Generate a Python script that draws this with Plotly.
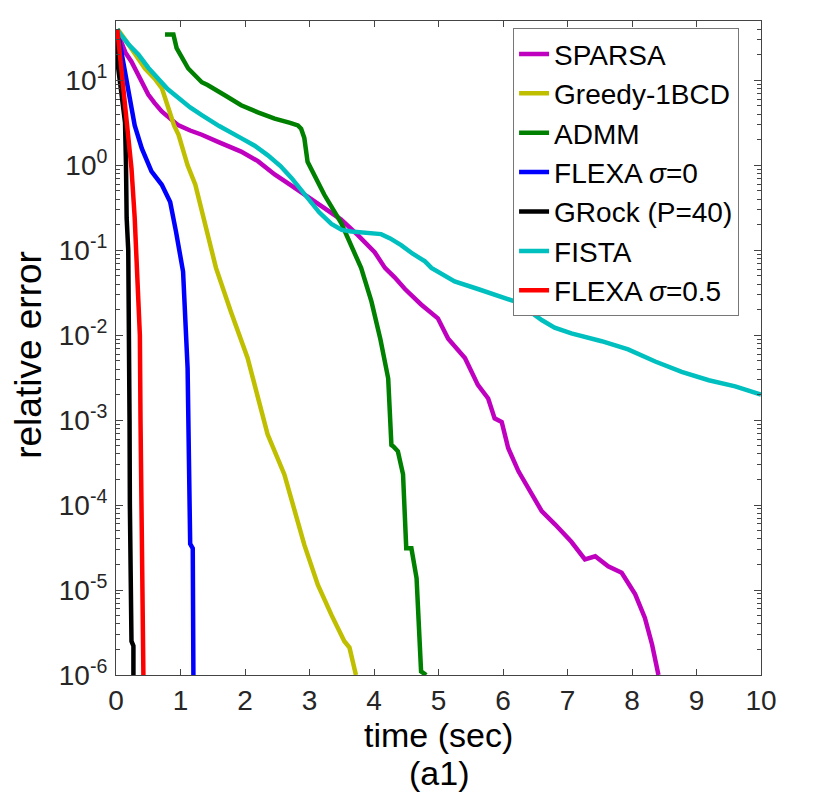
import plotly.graph_objects as go

# values (time in sec, relative error)
sparsa_t = [0.02, 0.06, 0.15, 0.24, 0.32, 0.40, 0.50, 0.60, 0.71, 0.85, 0.97, 1.15, 1.33, 1.60,
            1.94, 2.20, 2.46, 2.72, 2.97, 3.23, 3.49, 3.75, 4.01, 4.17, 4.32, 4.48, 4.73, 4.99,
            5.15, 5.41, 5.61, 5.77, 5.87, 5.98, 6.08, 6.24, 6.39, 6.60, 6.81, 7.06, 7.27, 7.43,
            7.63, 7.84, 8.05, 8.20, 8.31, 8.41]
sparsa_err = [40, 31, 21, 16.6, 12.6, 9.5, 6.8, 5.4, 4.3, 3.5, 2.95, 2.57, 2.29, 1.86,
              1.45, 1.12, 0.78, 0.575, 0.43, 0.32, 0.23, 0.151, 0.095, 0.062, 0.048, 0.035,
              0.023, 0.0158, 0.0091, 0.0054, 0.0026, 0.0018, 0.00105, 0.00095, 4.7e-4, 2.5e-4,
              1.6e-4, 8.5e-5, 5.9e-5, 3.7e-5, 2.3e-5, 2.5e-5, 1.9e-5, 1.6e-5, 8.9e-6, 4.7e-6,
              2.3e-6, 1.0e-6]

greedy_t = [0.02, 0.06, 0.25, 0.45, 0.60, 0.71, 0.78, 0.90, 0.97, 1.11, 1.23, 1.32, 1.47, 1.55,
            1.78, 2.04, 2.35, 2.61, 2.92, 3.13, 3.34, 3.54, 3.62, 3.72]
greedy_err = [40, 37, 23, 13.8, 10.5, 8.1, 5.6, 2.95, 2.29, 1.0, 0.59, 0.32, 0.105, 0.062,
              0.019, 0.0054, 6.8e-4, 2.3e-4, 3.4e-5, 1.15e-5, 5.1e-6, 2.5e-6, 2.1e-6, 1.0e-6]

admm_t = [0.76, 0.89, 0.94, 1.03, 1.12, 1.33, 1.42, 1.70, 1.94, 2.20, 2.46, 2.70, 2.82, 2.87,
          2.92, 2.97, 3.10, 3.23, 3.49, 3.80, 3.96, 4.10, 4.22, 4.27, 4.30, 4.37, 4.45, 4.50,
          4.58, 4.66, 4.73, 4.81]
admm_err = [34.7, 34.7, 24, 17.8, 13.8, 9.5, 8.8, 6.6, 5.1, 4.2, 3.55, 3.16, 2.95, 2.7,
            2.09, 1.1, 0.71, 0.45, 0.21, 0.062, 0.025, 0.0089, 0.0031, 5.1e-4, 4.9e-4, 4.3e-4,
            2.3e-4, 3.1e-5, 3.1e-5, 1.38e-5, 1.1e-6, 1.0e-6]

flexa0_t = [0.02, 0.10, 0.22, 0.29, 0.40, 0.55, 0.71, 0.84, 0.93, 1.01, 1.04, 1.11, 1.15, 1.16,
            1.15, 1.19, 1.20]
flexa0_err = [40, 17.8, 6.2, 2.95, 1.58, 0.85, 0.59, 0.37, 0.166, 0.081, 0.056, 0.0041, 1.3e-4,
              4.9e-5, 3.5e-5, 3.1e-5, 1.0e-6]

grock_t = [0.0, 0.035, 0.087, 0.14, 0.155, 0.165, 0.19, 0.205, 0.21, 0.215, 0.225, 0.24, 0.27, 0.27]
grock_err = [40, 13.8, 6.8, 3.2, 1.0, 0.24, 0.1, 0.01, 1e-3, 1e-4, 1e-5, 2.5e-6, 2.2e-6, 1.0e-6]

fista_t = [0.02, 0.06, 0.20, 0.35, 0.50, 0.66, 0.80, 0.97, 1.15, 1.33, 1.60, 1.94, 2.15, 2.35,
           2.55, 2.72, 2.97, 3.15, 3.34, 3.50, 3.65, 3.90, 4.11, 4.25, 4.42, 4.60, 4.79, 4.89,
           5.05, 5.25, 5.61, 5.93, 6.18, 6.40, 6.60, 6.80, 7.06, 7.53, 7.94, 8.36, 8.77, 9.19,
           9.60, 10.0]
fista_err = [40, 35.5, 26.3, 20, 14.1, 10.5, 7.9, 6.2, 4.8, 3.9, 2.9, 2.09, 1.7, 1.32,
             0.98, 0.71, 0.41, 0.28, 0.204, 0.174, 0.166, 0.162, 0.155, 0.138, 0.115, 0.091,
             0.074, 0.062, 0.052, 0.043, 0.035, 0.0295, 0.025, 0.0195, 0.0151, 0.0123, 0.0105,
             0.0085, 0.0068, 0.0049, 0.0037, 0.00295, 0.0025, 0.002]

flexa05_t = [0.02, 0.11, 0.19, 0.24, 0.29, 0.31, 0.37, 0.38, 0.395, 0.41, 0.425]
flexa05_err = [40, 8.7, 2.29, 0.92, 0.24, 0.1, 0.01, 1e-3, 1e-4, 1e-5, 1e-6]

names = ["SPARSA", "Greedy-1BCD", "ADMM", "FLEXA <i>σ</i>=0", "GRock (P=40)", "FISTA",
         "FLEXA <i>σ</i>=0.5"]
colors = ["#bf00bf", "#bfbf00", "#008000", "#0000ff", "#000000", "#00bfbf", "#ff0000"]

ytick_vals = [1e-6, 1e-5, 1e-4, 1e-3, 1e-2, 1e-1, 1e0, 1e1]
ytick_text = ["10<sup>-6</sup>", "10<sup>-5</sup>", "10<sup>-4</sup>", "10<sup>-3</sup>",
              "10<sup>-2</sup>", "10<sup>-1</sup>", "10<sup>0</sup>", "10<sup>1</sup>"]

font = "Liberation Sans, Arial, sans-serif"
axis_color = "#444444"

series = [
    (sparsa_t, sparsa_err),
    (greedy_t, greedy_err),
    (admm_t, admm_err),
    (flexa0_t, flexa0_err),
    (grock_t, grock_err),
    (fista_t, fista_err),
    (flexa05_t, flexa05_err),
]

fig = go.Figure()
for (t, err), name, c in zip(series, names, colors):
    fig.add_trace(go.Scatter(x=t, y=err, mode="lines", name=name, legendgroup=name,
                             line=dict(color=c, width=4.5)))

minor_vals = [m * 10.0 ** e for e in range(-6, 2) for m in range(2, 10) if m * 10.0 ** e <= 50]

fig.update_xaxes(
    range=[0, 10], dtick=1, showgrid=False, zeroline=False, automargin=False,
    showline=True, linecolor=axis_color, linewidth=1, mirror="ticks",
    ticks="inside", ticklen=6, tickcolor=axis_color,
    tickfont=dict(family=font, size=28, color="#262626"), ticklabelstandoff=0,
)
fig.update_yaxes(
    type="log", range=[-6, 1.699], showgrid=False, zeroline=False, automargin=False,
    showline=True, linecolor=axis_color, linewidth=1, mirror="ticks",
    tickmode="array", tickvals=ytick_vals, ticktext=ytick_text,
    ticks="inside", ticklen=7, tickcolor=axis_color,
    tickfont=dict(family=font, size=28, color="#262626"), ticklabelstandoff=2,
    minor=dict(tickmode="array", tickvals=minor_vals, ticks="inside", ticklen=4,
               tickcolor=axis_color, showgrid=False),
)

# axis titles placed as annotations to sit where the reference has them
fig.add_annotation(text="time (sec)", x=0.5, y=-0.06, xref="paper", yref="paper",
                   xanchor="center", yanchor="top", showarrow=False,
                   font=dict(family=font, size=34, color="black"))
fig.add_annotation(text="(a1)", x=0.5, y=-0.1185, xref="paper", yref="paper",
                   xanchor="center", yanchor="top", showarrow=False,
                   font=dict(family=font, size=34, color="black"))
fig.add_annotation(text="relative error", x=-0.136, y=0.49, xref="paper", yref="paper",
                   xanchor="center", yanchor="middle", textangle=-90, showarrow=False,
                   font=dict(family=font, size=37, color="black"))

fig.update_layout(
    width=830, height=800,
    margin=dict(l=108, r=77, t=13, b=133),
    plot_bgcolor="white", paper_bgcolor="white",
    legend=dict(x=0.966, xanchor="right", y=0.989, yanchor="top",
                bgcolor="white", bordercolor="#777777", borderwidth=1,
                font=dict(family=font, size=28, color="black"),
                tracegroupgap=0, itemwidth=30),
)

fig.write_html("out.html")
